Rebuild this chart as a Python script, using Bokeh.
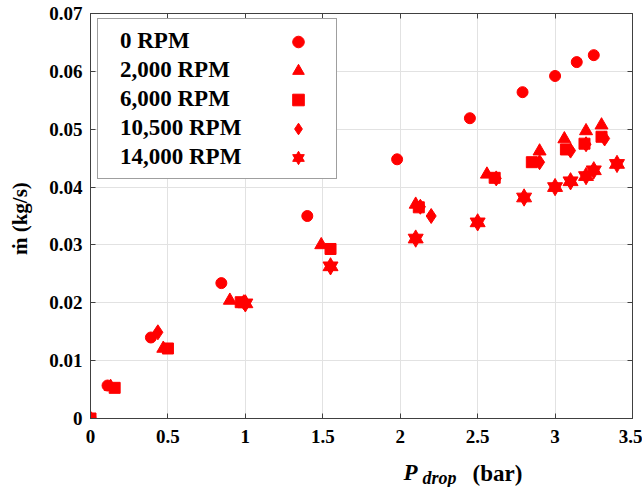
from bokeh.plotting import figure
from bokeh.layouts import column
from bokeh.models import (LinearAxis, Legend, LegendItem, Label, Range1d,
                          FixedTicker, PrintfTickFormatter)
from bokeh.embed import file_html
from bokeh.resources import INLINE

# ---- data ----
rpm0_x = [0.0, 0.11, 0.39, 0.845, 1.40, 1.98, 2.45, 2.79, 3.00, 3.14, 3.25]
rpm0_y = [0.0, 0.0057, 0.0140, 0.0234, 0.0350, 0.0448, 0.0519, 0.0564, 0.0592, 0.0616, 0.0628]

rpm2000_x = [0.0, 0.13, 0.47, 0.90, 1.49, 2.10, 2.56, 2.90, 3.06, 3.20, 3.30]
rpm2000_y = [0.0, 0.0055, 0.0121, 0.0204, 0.0300, 0.0370, 0.0422, 0.0462, 0.0483, 0.0497, 0.0507]

rpm6000_x = [0.0, 0.156, 0.50, 0.97, 1.55, 2.12, 2.61, 2.85, 3.07, 3.19, 3.30]
rpm6000_y = [0.0, 0.0053, 0.0121, 0.0201, 0.0293, 0.0365, 0.0416, 0.0443, 0.0465, 0.0475, 0.0487]

rpm10500_x = [0.435, 0.99, 2.13, 2.20, 2.62, 2.90, 3.10, 3.20, 3.32]
rpm10500_y = [0.0149, 0.0201, 0.0366, 0.0350, 0.0415, 0.0443, 0.0463, 0.0474, 0.0484]

rpm14000_x = [1.00, 1.55, 2.10, 2.50, 2.80, 3.00, 3.10, 3.20, 3.25, 3.40]
rpm14000_y = [0.0199, 0.0263, 0.0311, 0.0339, 0.0382, 0.0400, 0.0410, 0.0419, 0.0429, 0.0440]

series_labels = ["0 RPM", "2,000 RPM", "6,000 RPM", "10,500 RPM", "14,000 RPM"]

x_ticks = [0, 0.5, 1, 1.5, 2, 2.5, 3, 3.5]
x_tick_labels = ["0", "0.5", "1", "1.5", "2", "2.5", "3", "3.5"]
y_ticks = [0, 0.01, 0.02, 0.03, 0.04, 0.05, 0.06, 0.07]
y_tick_labels = ["0", "0.01", "0.02", "0.03", "0.04", "0.05", "0.06", "0.07"]

y_title = "ṁ  (kg/s)"

# ---- styling ----
FONT = "Liberation Serif"
RED = "#ff0000"
AX = "#404040"
GRID = "#e2e2e2"

p = figure(frame_width=542, frame_height=405,
           x_range=Range1d(0, 3.5), y_range=Range1d(0, 0.07),
           output_backend="svg", toolbar_location=None,
           min_border_left=90, min_border_right=10,
           min_border_top=13, min_border_bottom=36)
p.background_fill_color = "white"
p.border_fill_color = "white"
p.outline_line_color = AX
p.outline_line_width = 1

xt = FixedTicker(ticks=x_ticks)
yt = FixedTicker(ticks=y_ticks)

for ax, ticks, labels, t, so in ((p.xaxis[0], x_ticks, x_tick_labels, xt, 11),
                                 (p.yaxis[0], y_ticks, y_tick_labels, yt, 8)):
    ax.ticker = t
    ax.formatter = PrintfTickFormatter(format="%g")
    ax.major_label_overrides = {k: v for k, v in zip(ticks, labels)}
    ax.major_label_text_font = FONT
    ax.major_label_text_font_style = "bold"
    ax.major_label_text_font_size = "19px"
    ax.major_label_text_color = "black"
    ax.major_tick_in = 5
    ax.major_tick_out = 0
    ax.minor_tick_line_color = None
    ax.axis_line_color = AX
    ax.major_tick_line_color = AX
    ax.major_label_standoff = so

p.yaxis[0].axis_label = y_title
p.yaxis[0].axis_label_text_font = FONT
p.yaxis[0].axis_label_text_font_style = "bold"
p.yaxis[0].axis_label_text_font_size = "21px"
p.yaxis[0].axis_label_text_color = "black"
p.yaxis[0].axis_label_standoff = 14

# mirror axes (box on) - ticks only
right = LinearAxis(ticker=FixedTicker(ticks=y_ticks), major_label_text_color=None,
                   major_tick_in=5, major_tick_out=0, minor_tick_line_color=None,
                   axis_line_color=AX, major_tick_line_color=AX, major_label_standoff=0)
top = LinearAxis(ticker=FixedTicker(ticks=x_ticks), major_label_text_color=None,
                 major_tick_in=5, major_tick_out=0, minor_tick_line_color=None,
                 axis_line_color=AX, major_tick_line_color=AX, major_label_standoff=0)
p.add_layout(right, "right")
p.add_layout(top, "above")

p.xgrid.ticker = xt
p.ygrid.ticker = yt
p.xgrid.grid_line_color = GRID
p.ygrid.grid_line_color = GRID

# ---- data markers ----
r0 = p.scatter(rpm0_x, rpm0_y, marker="circle", size=11, color=RED)
r1 = p.scatter(rpm2000_x, rpm2000_y, marker="triangle", size=13, color=RED)
r2 = p.scatter(rpm6000_x, rpm6000_y, marker="square", size=11, color=RED)
r3 = p.scatter(rpm10500_x, rpm10500_y, marker="diamond", size=15, color=RED)
r4a = p.scatter(rpm14000_x, rpm14000_y, marker="triangle", size=15, color=RED)
r4b = p.scatter(rpm14000_x, rpm14000_y, marker="inverted_triangle", size=15, color=RED)

rend_groups = [[r0], [r1], [r2], [r3], [r4a, r4b]]

# legend text box
legend_text = Legend(
    items=[LegendItem(label=lbl, renderers=g) for lbl, g in zip(series_labels, rend_groups)],
    location=(7, 239), glyph_width=0, glyph_height=29, spacing=0, padding=7,
    label_standoff=15, label_width=209, label_height=20,
    label_text_font=FONT, label_text_font_style="bold", label_text_font_size="23px",
    label_text_color="black",
    border_line_color=AX, border_line_width=1,
    background_fill_color="white", background_fill_alpha=1.0)
p.add_layout(legend_text)

# legend markers (to the right of the text, as in the reference)
legend_marks = Legend(
    items=[LegendItem(label=" ", renderers=g) for g in rend_groups],
    location=(186, 239), glyph_width=30, glyph_height=29, spacing=0, padding=7,
    label_standoff=0, label_width=0, label_height=20, label_text_color=None,
    border_line_alpha=0, background_fill_alpha=0)
p.add_layout(legend_marks)


# ---- x title: drawn in a small text-only figure under the plot ----
xfig = figure(width=642, height=33, min_border=0, x_axis_type=None, y_axis_type=None,
              x_range=Range1d(0, 1), y_range=Range1d(0, 1),
              output_backend="svg", toolbar_location=None)
xfig.outline_line_color = None
xfig.background_fill_color = "white"
xfig.border_fill_color = "white"


def lab(x, y, text, size, style):
    xfig.add_layout(Label(x=x, y=y, x_units="screen", y_units="screen", text=text,
                          text_font=FONT, text_font_style=style,
                          text_font_size=size, text_baseline="alphabetic",
                          text_align="left", text_color="black"))


lab(313, 15, "P", "23px", "bold italic")
lab(332, 10, "drop", "18px", "bold italic")
lab(382, 14, "(bar)", "23px", "bold")

layout = column(p, xfig, spacing=0)

open("out.html", "w").write(file_html(layout, INLINE))
